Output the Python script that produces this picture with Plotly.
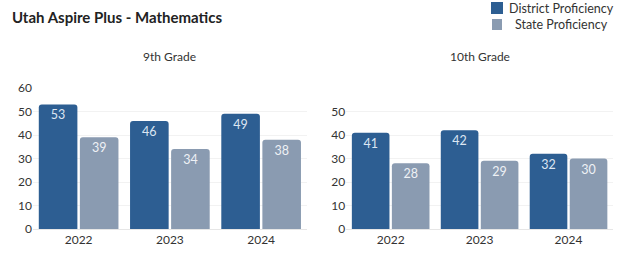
import plotly.graph_objects as go

years = ["2022", "2023", "2024"]
g9_district = [53, 46, 49]
g9_state = [39, 34, 38]
g10_district = [41, 42, 32]
g10_state = [28, 29, 30]
subtitles = ["9th Grade", "10th Grade"]
series_names = ["District Proficiency", "State Proficiency"]

C_D = "#2d5e92"
C_S = "#8a9bb1"

fig = go.Figure()
fig.add_trace(go.Bar(x=years, y=g9_district, name=series_names[0], marker_color=C_D,
                     xaxis="x", yaxis="y", textfont_color="#dce6f2"))
fig.add_trace(go.Bar(x=years, y=g9_state, name=series_names[1], marker_color=C_S,
                     xaxis="x", yaxis="y", textfont_color="#eef1f5"))
fig.add_trace(go.Bar(x=years, y=g10_district, name=series_names[0], marker_color=C_D,
                     xaxis="x2", yaxis="y2", textfont_color="#dce6f2"))
fig.add_trace(go.Bar(x=years, y=g10_state, name=series_names[1], marker_color=C_S,
                     xaxis="x2", yaxis="y2", textfont_color="#eef1f5"))
fig.update_traces(textposition="inside", insidetextanchor="end", texttemplate="%{y}",
                  textfont_family="Lato", textfont_size=12.5, marker_line_width=0,
                  showlegend=False)

axis_font = dict(family="Lato", size=12, color="#333333")
leg_font = dict(family="Lato", size=12.5, color="#333333")
fig.update_layout(
    width=625, height=255,
    margin=dict(l=33, r=12, t=88, b=26, autoexpand=False),
    paper_bgcolor="white", plot_bgcolor="white",
    font=dict(family="Lato", color="#333333"),
    barmode="group", bargap=0.1, bargroupgap=0.06, barcornerradius=3,
    title=dict(text="<b>Utah Aspire Plus - Mathematics</b>", x=0.019, xanchor="left",
               y=0.93, yanchor="middle", font=dict(family="Lato", size=15, color="#222222")),
    xaxis=dict(domain=[0, 0.472], tickfont=axis_font, showline=True, linecolor="#e6e6e6",
               ticks="", showgrid=False),
    xaxis2=dict(domain=[0.54, 1.0], tickfont=axis_font, showline=True, linecolor="#e6e6e6",
                ticks="", showgrid=False),
    yaxis=dict(range=[0, 60], tickvals=[0, 10, 20, 30, 40, 50, 60], tickfont=axis_font,
               gridcolor="#f2f2f2", zeroline=False, anchor="x"),
    yaxis2=dict(range=[0, 60], tickvals=[0, 10, 20, 30, 40, 50], tickfont=axis_font,
                gridcolor="#f2f2f2", zeroline=False, anchor="x2"),
    annotations=[
        dict(text=subtitles[0], xref="x domain", yref="paper", x=0.5, y=1.22,
             yanchor="middle", showarrow=False,
             font=dict(family="Lato", size=12, color="#333333")),
        dict(text=subtitles[1], xref="x2 domain", yref="paper", x=0.5, y=1.22,
             yanchor="middle", showarrow=False,
             font=dict(family="Lato", size=12, color="#333333")),
        # custom legend text (pixel-anchored in paper space)
        dict(text=series_names[0], xref="paper", yref="paper",
             x=(507 - 33) / 580, xanchor="left", y=(229 - 8) / 141, yanchor="middle",
             showarrow=False, font=leg_font),
        dict(text=series_names[1], xref="paper", yref="paper",
             x=(610 - 33) / 580, xanchor="right", y=(229 - 24) / 141, yanchor="middle",
             showarrow=False, font=leg_font),
    ],
    shapes=[
        dict(type="rect", xref="paper", yref="paper", line_width=0, fillcolor=C_D,
             x0=(491 - 33) / 580, x1=(503 - 33) / 580,
             y0=(229 - 14) / 141, y1=(229 - 2) / 141),
        dict(type="rect", xref="paper", yref="paper", line_width=0, fillcolor=C_S,
             x0=(492 - 33) / 580, x1=(502 - 33) / 580,
             y0=(229 - 30) / 141, y1=(229 - 19) / 141),
    ],
)
fig.write_html("out.html", config={"displayModeBar": False},
               post_script="document.body.style.margin='0';")
